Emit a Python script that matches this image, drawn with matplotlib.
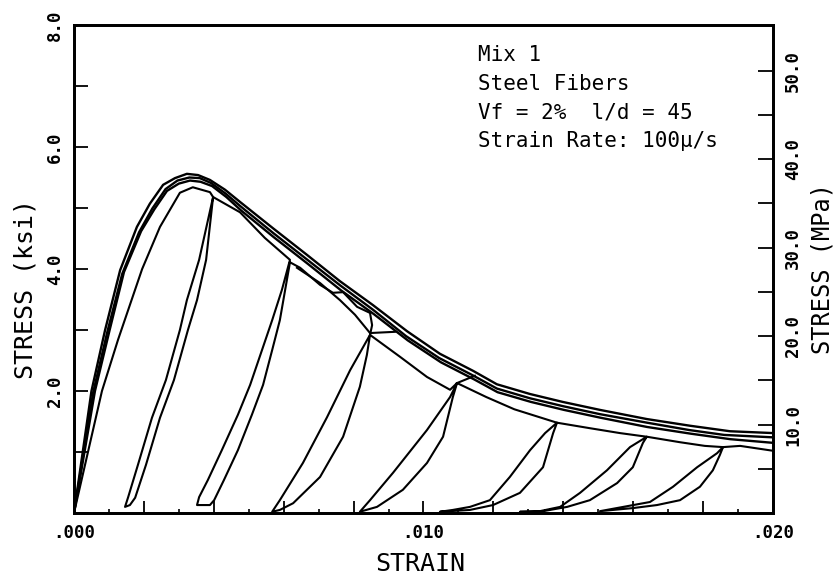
import numpy as np
import matplotlib.pyplot as plt

# monotonic envelope records (strain, stress in ksi)
band_a_eps = [0, 0.00050, 0.00089, 0.00132, 0.00180, 0.00217, 0.00255, 0.00289, 0.00323, 0.00355,
              0.00389, 0.00432, 0.00475, 0.00569, 0.00667, 0.00761, 0.00855, 0.00953, 0.01047, 0.01142,
              0.01210, 0.01305, 0.01399, 0.01505, 0.01639, 0.01763, 0.01877, 0.02000]
band_a_sig = [0, 2.00, 3.00, 3.98, 4.69, 5.07, 5.38, 5.49, 5.56, 5.54,
              5.46, 5.30, 5.10, 4.67, 4.23, 3.80, 3.41, 2.98, 2.61, 2.33,
              2.11, 1.95, 1.82, 1.69, 1.54, 1.43, 1.34, 1.31]

band_b_eps = [0, 0.00060, 0.00102, 0.00143, 0.00192, 0.00230, 0.00266, 0.00300, 0.00332, 0.00362,
              0.00395, 0.00436, 0.00478, 0.00572, 0.00670, 0.00764, 0.00858, 0.00955, 0.01050, 0.01145,
              0.01212, 0.01308, 0.01402, 0.01508, 0.01640, 0.01765, 0.01878, 0.02000]
band_b_sig = [0, 2.00, 3.00, 3.95, 4.62, 4.98, 5.28, 5.40, 5.45, 5.43,
              5.36, 5.18, 4.96, 4.52, 4.08, 3.65, 3.26, 2.83, 2.47, 2.19,
              1.98, 1.82, 1.69, 1.56, 1.41, 1.30, 1.21, 1.15]

band_e_eps = [0, 0.00055, 0.00095, 0.00138, 0.00186, 0.00224, 0.00262, 0.00296, 0.00330, 0.00360,
              0.00392, 0.00433, 0.00476, 0.00570, 0.00668, 0.00762, 0.00856, 0.00950, 0.01045, 0.01140,
              0.01210, 0.01305, 0.01400, 0.01505, 0.01640, 0.01760, 0.01860, 0.02000]
band_e_sig = [0, 1.98, 2.96, 3.92, 4.60, 4.99, 5.31, 5.45, 5.50, 5.49,
              5.41, 5.24, 5.03, 4.59, 4.15, 3.73, 3.33, 2.90, 2.54, 2.26,
              2.04, 1.88, 1.75, 1.62, 1.48, 1.36, 1.28, 1.24]

# cyclic test: ascending branch up to first unloading
rise_eps = [0, 0.00080, 0.00126, 0.00195, 0.00246, 0.00303, 0.00340, 0.00389, 0.00398]
rise_sig = [0, 2.00, 2.84, 4.00, 4.69, 5.25, 5.34, 5.26, 5.18]

# unloading / reloading loops
un1_eps = [0.00398, 0.00358, 0.00323, 0.00303, 0.00263, 0.00223, 0.00183, 0.00155, 0.00146]
un1_sig = [5.18, 4.15, 3.49, 3.00, 2.18, 1.56, 0.79, 0.26, 0.10]
re1_eps = [0.00146, 0.00160, 0.00175, 0.00206, 0.00246, 0.00286, 0.00326, 0.00352, 0.00378, 0.00398]
re1_sig = [0.10, 0.13, 0.25, 0.79, 1.56, 2.18, 3.00, 3.49, 4.15, 5.18]

un2_eps = [0.00618, 0.00595, 0.00567, 0.00538, 0.00504, 0.00469, 0.00423, 0.00383, 0.00358, 0.00352]
un2_sig = [4.15, 3.66, 3.16, 2.67, 2.10, 1.61, 1.03, 0.54, 0.26, 0.13]
re2_eps = [0.00352, 0.00389, 0.00401, 0.00429, 0.00469, 0.00509, 0.00541, 0.00567, 0.00589, 0.00609, 0.00618]
re2_sig = [0.13, 0.13, 0.21, 0.54, 1.03, 1.61, 2.10, 2.67, 3.16, 3.82, 4.11]

un3_eps = [0.00847, 0.00790, 0.00724, 0.00655, 0.00589, 0.00567]
un3_sig = [2.92, 2.34, 1.57, 0.82, 0.21, 0.02]
re3_eps = [0.00567, 0.00589, 0.00627, 0.00704, 0.00770, 0.00818, 0.00838, 0.00847]
re3_sig = [0.02, 0.05, 0.16, 0.59, 1.25, 2.07, 2.59, 2.92]

un4_eps = [0.01096, 0.01076, 0.01010, 0.00913, 0.00847, 0.00818]
un4_sig = [2.13, 1.90, 1.36, 0.66, 0.21, 0.02]
re4_eps = [0.00818, 0.00867, 0.00941, 0.01010, 0.01056, 0.01084, 0.01096]
re4_sig = [0.02, 0.10, 0.38, 0.82, 1.25, 1.90, 2.13]

un5_eps = [0.01382, 0.01348, 0.01305, 0.01247, 0.01190, 0.01133, 0.01084, 0.01047]
un5_sig = [1.48, 1.31, 1.03, 0.59, 0.21, 0.10, 0.05, 0.02]
re5_eps = [0.01047, 0.01133, 0.01199, 0.01276, 0.01342, 0.01371, 0.01382]
re5_sig = [0.02, 0.05, 0.13, 0.33, 0.75, 1.31, 1.48]

un6_eps = [0.01639, 0.01591, 0.01525, 0.01448, 0.01391, 0.01333, 0.01276]
un6_sig = [1.25, 1.08, 0.70, 0.33, 0.10, 0.03, 0.02]
re6_eps = [0.01276, 0.01333, 0.01411, 0.01476, 0.01554, 0.01599, 0.01628, 0.01639]
re6_sig = [0.02, 0.02, 0.10, 0.21, 0.49, 0.75, 1.15, 1.25]

un7_eps = [0.01857, 0.01840, 0.01783, 0.01714, 0.01648, 0.01571, 0.01505]
un7_sig = [1.08, 0.98, 0.75, 0.43, 0.18, 0.10, 0.03]
re7_eps = [0.01505, 0.01599, 0.01668, 0.01734, 0.01791, 0.01828, 0.01848, 0.01857]
re7_sig = [0.03, 0.08, 0.13, 0.21, 0.43, 0.70, 0.95, 1.08]

# envelope pieces between loops
seg12_eps = [0.00398, 0.00475, 0.00546, 0.00618]
seg12_sig = [5.18, 4.93, 4.51, 4.15]
seg23_eps = [0.00618, 0.00647, 0.00704, 0.00741, 0.00770, 0.00810, 0.00847, 0.00853, 0.00847]
seg23_sig = [4.11, 4.02, 3.74, 3.61, 3.62, 3.38, 3.28, 3.08, 2.92]
seg34_eps = [0.00847, 0.00933, 0.01010, 0.01076, 0.01096]
seg34_sig = [2.92, 2.56, 2.23, 2.02, 2.13]
seg45_eps = [0.01096, 0.01180, 0.01260, 0.01382]
seg45_sig = [2.13, 1.90, 1.70, 1.48]
seg56_eps = [0.01382, 0.01476, 0.01562, 0.01639]
seg56_sig = [1.48, 1.39, 1.31, 1.25]
seg67_eps = [0.01639, 0.01734, 0.01805, 0.01857]
seg67_sig = [1.25, 1.16, 1.10, 1.08]
tail_eps = [0.01857, 0.01906, 0.02000]
tail_sig = [1.08, 1.10, 1.02]

# extra short traces
lower_eps = [0.00638, 0.00704, 0.00761, 0.00804, 0.00847]
lower_sig = [4.02, 3.77, 3.49, 3.25, 2.95]
spur_a_eps = [0.00847, 0.00918]
spur_a_sig = [2.95, 2.97]
spur_b_eps = [0.01096, 0.01147]
spur_b_sig = [2.13, 2.25]

KSI_TO_MPA = 6.895

cyc_eps = np.concatenate([rise_eps, un1_eps, re1_eps, seg12_eps, un2_eps, re2_eps, seg23_eps,
                          un3_eps, re3_eps, seg34_eps, un4_eps, re4_eps, seg45_eps,
                          un5_eps, re5_eps, seg56_eps, un6_eps, re6_eps, seg67_eps,
                          un7_eps, re7_eps, tail_eps])
cyc_sig = np.concatenate([rise_sig, un1_sig, re1_sig, seg12_sig, un2_sig, re2_sig, seg23_sig,
                          un3_sig, re3_sig, seg34_sig, un4_sig, re4_sig, seg45_sig,
                          un5_sig, re5_sig, seg56_sig, un6_sig, re6_sig, seg67_sig,
                          un7_sig, re7_sig, tail_sig])

mono = 'DejaVu Sans Mono'

fig = plt.figure(figsize=(8.38, 5.83), dpi=100)
ax = fig.add_axes([0.0883, 0.1201, 0.8341, 0.8370])

for e, s in [(band_a_eps, band_a_sig), (band_b_eps, band_b_sig), (band_e_eps, band_e_sig)]:
    ax.plot(e, s, color='black', lw=1.7, solid_joinstyle='round')
ax.plot(cyc_eps, cyc_sig, color='black', lw=1.5, solid_joinstyle='round')
for e, s in [(lower_eps, lower_sig), (spur_a_eps, spur_a_sig), (spur_b_eps, spur_b_sig)]:
    ax.plot(e, s, color='black', lw=1.5)

ax.set_xlim(0, 0.02)
ax.set_ylim(0, 8)

xt = [i * 0.002 for i in range(11)]
xl = ['.000', '', '', '', '', '.010', '', '', '', '', '.020']
ax.set_xticks(xt, labels=xl, family=mono, fontweight='bold', fontsize=12.5)
ax.set_xticks([i * 0.001 for i in range(1, 20, 2)], minor=True)
yt = list(range(9))
yl = ['', '', '2.0', '', '4.0', '', '6.0', '', '8.0']
ax.set_yticks(yt, labels=yl, family=mono, fontweight='bold', fontsize=12.5,
              rotation=90, va='center')
ax.tick_params(axis='x', which='major', direction='in', length=9, width=1.3, pad=8)
ax.tick_params(axis='x', which='minor', direction='in', length=3, width=1.2)
ax.tick_params(axis='y', which='major', direction='in', length=10, width=1.3, pad=7)

ax2 = ax.twinx()
ax2.set_ylim(0, 8 * KSI_TO_MPA)
mt = list(range(0, 55, 5))
ml = ['%.1f' % v if v % 10 == 0 and v > 0 else '' for v in mt]
ax2.set_yticks(mt, labels=ml, family=mono, fontweight='bold', fontsize=12.5,
               rotation=90, va='center')
ax2.tick_params(axis='y', direction='in', length=11, width=1.3, pad=8)

for a in (ax, ax2):
    for sp in a.spines.values():
        sp.set_linewidth(2.0)

ax.set_xlabel('STRAIN', family=mono, fontsize=18)
ax.xaxis.set_label_coords(0.495, -0.080)
ax.set_ylabel('STRESS (ksi)', family=mono, fontsize=18)
ax.yaxis.set_label_coords(-0.052, 0.46)
ax2.set_ylabel('STRESS (MPa)', family=mono, fontsize=17)
ax2.yaxis.set_label_coords(1.054, 0.50)

notes = ['Mix 1', 'Steel Fibers', 'Vf = 2%  l/d = 45', 'Strain Rate: 100\u03bc/s']
for i, line in enumerate(notes):
    ax.text(0.578, 0.9385 - i * 0.0588, line, transform=ax.transAxes,
            family=mono, fontsize=15, va='center', ha='left')

fig.savefig('out.png', dpi=100)
